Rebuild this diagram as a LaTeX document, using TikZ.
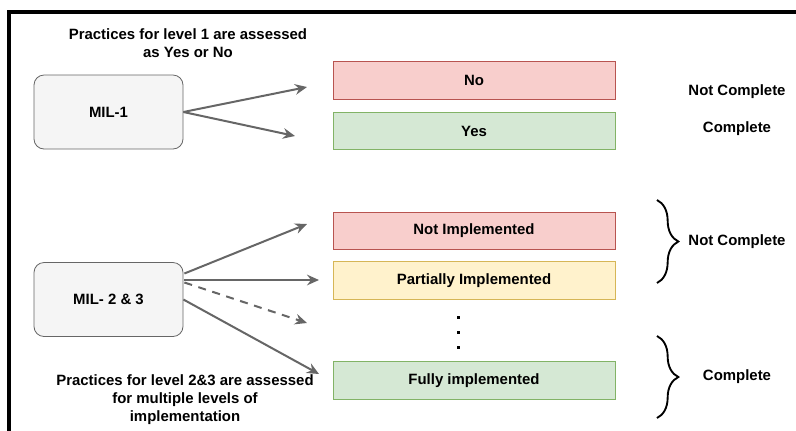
\documentclass[tikz,border=0pt]{standalone}
\usepackage{fontspec}
\setmainfont{Liberation Sans}
\usetikzlibrary{arrows.meta,calc,decorations.pathreplacing}
\definecolor{boxgray}{HTML}{F5F5F5}
\definecolor{linegray}{HTML}{666666}
\definecolor{redfill}{HTML}{F8CECC}
\definecolor{redline}{HTML}{B85450}
\definecolor{greenfill}{HTML}{D5E8D4}
\definecolor{greenline}{HTML}{82B366}
\definecolor{yellowfill}{HTML}{FFF2CC}
\definecolor{yellowline}{HTML}{D6B656}
\begin{document}
\begin{tikzpicture}[x=0.75pt,y=-0.75pt,
  every node/.style={font=\bfseries\fontsize{11.2}{13.5}\selectfont},
  milbox/.style={draw=linegray,fill=boxgray,rounded corners=7.5pt,line width=0.6pt,minimum width=111.75pt,minimum height=55.5pt},
  statebox/.style={line width=0.6pt,minimum width=211.5pt,minimum height=28pt},
  redbox/.style={statebox,draw=redline,fill=redfill},
  greenbox/.style={statebox,draw=greenline,fill=greenfill},
  yellowbox/.style={statebox,draw=yellowline,fill=yellowfill},
  arr/.style={draw=linegray,line width=1.5pt,-{Stealth[length=9pt,width=8pt,inset=3pt]}},
  curly/.style={draw,line width=1.4pt,decorate,decoration={brace,amplitude=16pt}}]
\clip (0,0) rectangle (796,430);
\useasboundingbox (0,0) rectangle (796,430);
\draw[line width=2.4pt] (9,12) rectangle (820,450); %frame

\node[align=center] (title1) at (188,43) {Practices for level 1 are assessed\\as Yes or No};
\node[align=center] (title23) at (185,400) {Practices for level 2\&3 are assessed\\for multiple levels of\\implementation};

\node[milbox] (mil1)  at (108.5,112)   {MIL-1};
\node[milbox] (mil23) at (108.5,299.5) {MIL- 2 \& 3};

\node[redbox]    (no)       at (474,80.5)  {No};
\node[greenbox]  (yes)      at (474,131)   {Yes};
\node[redbox]    (notimpl)  at (474,231)   {Not Implemented};
\node[yellowbox] (partimpl) at (474,280.5) {Partially Implemented};
\node[greenbox]  (fullimpl) at (474,380.5) {Fully implemented};

%arrow tips stop short of the boxes
\coordinate (tipno)   at (307,87);
\coordinate (tipyes)  at (295,136);
\coordinate (tipnot)  at (307,224);
\coordinate (tippart) at (319,280);
\coordinate (tipmore) at (307,323);
\coordinate (tipfull) at (319,374);

\draw[arr] (mil1.east) -- (tipno);
\draw[arr] (mil1.east) -- (tipyes);
\draw[arr] ($(mil23.east)+(1,-26)$) -- (tipnot);
\draw[arr] ($(mil23.east)+(1,-19.5)$) -- (tippart);
\draw[arr,dashed,dash pattern=on 6pt off 5pt] ($(mil23.east)+(1,-17)$) -- (tipmore);
\draw[arr] (mil23.east) -- (tipfull);

\foreach \y in {317,332,347}
  \fill (456.5,\y-1.5) rectangle (459.5,\y+1.5); %dots

\node (nc1) at (737,92)  {Not Complete};
\node (c1)  at (737,129) {Complete};

\draw[curly] (657,200) -- (657,283);
\draw[curly] (657,336) -- (657,418);
\node (nc2) at (737,242) {Not Complete};
\node (c2)  at (737,377) {Complete};
\end{tikzpicture}
\end{document}
